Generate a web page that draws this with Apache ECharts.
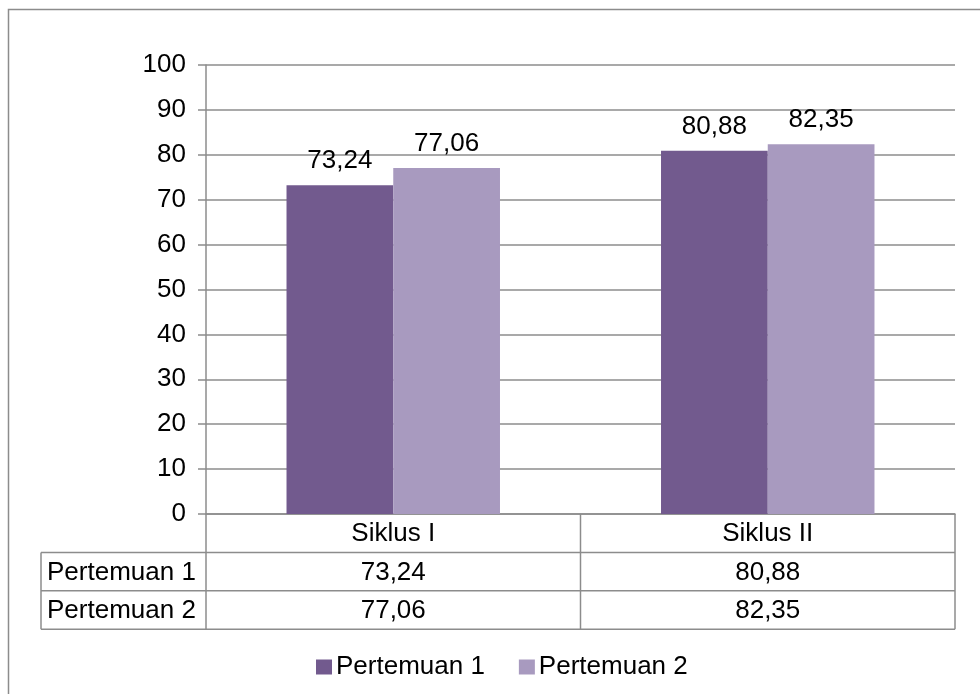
<!DOCTYPE html>
<html><head><meta charset="utf-8">
<script src="https://cdn.jsdelivr.net/npm/echarts@6/dist/echarts.min.js"></script>
<style>html,body{margin:0;padding:0;background:#fff}#c{width:980px;height:694px}</style>
</head><body><div id="c"></div>
<script>
const categories = ['Siklus I', 'Siklus II'];
const seriesNames = ['Pertemuan 1', 'Pertemuan 2'];
const pertemuan1 = [73.24, 80.88];
const pertemuan2 = [77.06, 82.35];
const colors = ['#725A8E', '#A89ABF'];
const fmt = v => v.toFixed(2).replace('.', ',');
const FONT = '"Liberation Sans", Arial, sans-serif';
const FS = 26;

const chart = echarts.init(document.getElementById('c'), null, {renderer: 'canvas'});
const labelCfg = {show: true, position: 'top', distance: 11, color: '#000', fontSize: FS, fontFamily: FONT, formatter: p => fmt(p.value)};
const option = {
  animation: false,
  backgroundColor: '#fff',
  textStyle: {fontFamily: FONT},
  grid: {left: 206, right: 25, top: 65, bottom: 180, containLabel: false},
  xAxis: {
    type: 'category', data: categories,
    axisLine: {lineStyle: {color: '#8c8c8c', width: 1.5}},
    axisTick: {show: false},
    axisLabel: {show: false}
  },
  yAxis: {
    type: 'value', min: 0, max: 100, interval: 10,
    axisLine: {show: true, lineStyle: {color: '#8c8c8c', width: 1.5}},
    axisTick: {show: true, length: 8, lineStyle: {color: '#8c8c8c', width: 1.5}},
    axisLabel: {color: '#000', fontSize: FS, fontFamily: FONT, margin: 20},
    splitLine: {lineStyle: {color: '#8c8c8c', width: 1.5}}
  },
  legend: {
    top: 649, left: 311, itemWidth: 16, itemHeight: 15, itemGap: 34,
    icon: 'rect',
    textStyle: {fontSize: FS, color: '#000', fontFamily: FONT, padding: [0, 0, 0, -1]},
    data: seriesNames
  },
  series: [
    {name: seriesNames[0], type: 'bar', data: pertemuan1, barGap: '0%', barCategoryGap: '43%',
     itemStyle: {color: colors[0]}, label: labelCfg},
    {name: seriesNames[1], type: 'bar', data: pertemuan2, barGap: '0%', barCategoryGap: '43%',
     itemStyle: {color: colors[1]}, label: labelCfg}
  ]
};
chart.setOption(option);

// Build data table from the axis geometry
const gridModel = chart.getModel().getComponent('grid', 0);
const rect = gridModel.coordinateSystem.getRect();
const left = rect.x, right = rect.x + rect.width, axisY = rect.y + rect.height;
const rowH = 38.4;
const labelLeft = 41;
const lc = '#8c8c8c';
const g = [];
// outer border (top + left visible)
g.push({type: 'rect', shape: {x: 8.5, y: 9.5, width: 1000, height: 1000}, style: {fill: 'none', stroke: '#8c8c8c', lineWidth: 1.5}, silent: true, z: 0});
const colW = rect.width / categories.length;
const bottomY = axisY + rowH * 3;
for (let i = 0; i <= categories.length; i++) {
  const x = left + colW * i;
  g.push({type: 'line', shape: {x1: x, y1: axisY, x2: x, y2: bottomY}, style: {stroke: lc, lineWidth: 1.5}});
}
g.push({type: 'line', shape: {x1: labelLeft, y1: axisY + rowH, x2: labelLeft, y2: bottomY}, style: {stroke: lc, lineWidth: 1.5}});
for (let r = 1; r <= 3; r++) {
  const y = axisY + rowH * r;
  g.push({type: 'line', shape: {x1: labelLeft, y1: y, x2: right, y2: y}, style: {stroke: lc, lineWidth: 1.5}});
}
const txt = (x, y, s, align) => ({type: 'text', x: x, y: y, style: {text: s, fill: '#000', fontSize: FS, fontFamily: FONT, align: align || 'center', verticalAlign: 'middle'}});
categories.forEach((c, i) => {
  const cx = chart.convertToPixel({xAxisIndex: 0}, c);
  g.push(txt(cx, axisY + rowH * 0.5 + 1, c));
  g.push(txt(cx, axisY + rowH * 1.5 + 1, fmt(pertemuan1[i])));
  g.push(txt(cx, axisY + rowH * 2.5 + 1, fmt(pertemuan2[i])));
});
g.push(txt(labelLeft + 6, axisY + rowH * 1.5 + 1, seriesNames[0], 'left'));
g.push(txt(labelLeft + 6, axisY + rowH * 2.5 + 1, seriesNames[1], 'left'));
chart.setOption({graphic: {elements: g}});
</script></body></html>
